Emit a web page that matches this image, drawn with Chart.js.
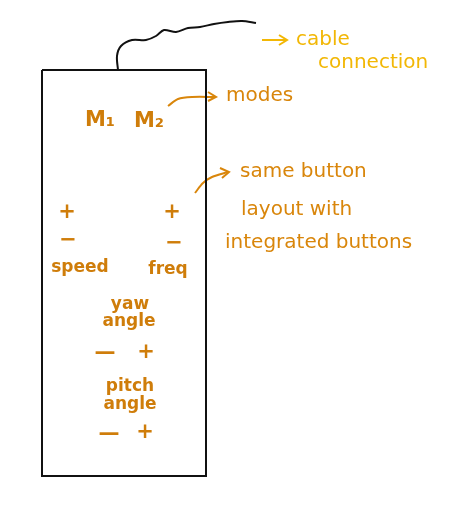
<!DOCTYPE html>
<html>
<head>
<meta charset="utf-8">
<script src="https://cdn.jsdelivr.net/npm/chart.js@4"></script>
<style>
  html, body { margin: 0; padding: 0; background: #fff; }
  #wrap { width: 454px; height: 529px; }
</style>
</head>
<body>
<div id="wrap"><canvas id="sketch"></canvas></div>
<script>
// sketch coordinates: x 0..454, y 0..529 (y grows downward)
const boxOutline = [[42,70],[206,70],[206,476],[42,476],[42,70]];
const cablePath = [[118,70],[117,56],[121,46],[132,40],[146,40],[156,36],[164,30],[176,32],[188,28],[200,27],[214,24],[228,22],[242,21],[256,23]];
const cableArrow = [[262,40],[286,40]];
const cableHead = [[279,35],[287,40],[279,45]];
const modesArrow = [[168,106],[178,99],[192,97],[215,97]];
const modesHead = [[208,92],[216,97],[208,101]];
const layoutArrow = [[195,193],[203,183],[212,177],[228,172]];
const layoutHead = [[220,168],[229,172],[222,178]];

const noteLabels = ["cable", "connection", "modes", "same button", "layout with", "integrated buttons"];
const notePos = [[296,40],[318,63],[226,96],[240,172],[241,210],[225,243]];
const noteColor = ["#f2b705", "#f2b705", "#d9860b", "#d9860b", "#d9860b", "#d9860b"];

const buttonLabels = ["M₁", "M₂", "+", "+", "−", "−", "speed", "freq", "yaw", "angle", "—", "+", "pitch", "angle", "—", "+"];
const buttonPos = [[100,121],[149,122],[67,213],[172,213],[68,241],[174,244],[80,268],[168,270],[130,305],[129,322],[105,354],[146,353],[130,387],[130,405],[109,435],[145,433]];

const pts = a => a.map(p => ({x: p[0], y: p[1]}));

function lineSet(data, color, width) {
    return { data: pts(data), showLine: true, borderColor: color, borderWidth: width,
             pointRadius: 0, tension: 0.3, fill: false };
}

const textPlugin = {
    id: "sketchText",
    afterDatasetsDraw(chart) {
        const {ctx, scales: {x, y}} = chart;
        ctx.save();
        ctx.textBaseline = "middle";
        ctx.font = "20px 'DejaVu Sans'";
        noteLabels.forEach((t, i) => {
            ctx.fillStyle = noteColor[i];
            ctx.textAlign = "left";
            ctx.fillText(t, x.getPixelForValue(notePos[i][0]), y.getPixelForValue(notePos[i][1]));
        });
        ctx.fillStyle = "#cf7d0a";
        ctx.textAlign = "center";
        buttonLabels.forEach((t, i) => {
            ctx.font = "bold " + (t.length > 2 ? "17px" : "21px") + " 'DejaVu Sans'";
            ctx.fillText(t, x.getPixelForValue(buttonPos[i][0]), y.getPixelForValue(buttonPos[i][1]));
        });
        ctx.restore();
    }
};

new Chart(document.getElementById("sketch"), {
    type: "scatter",
    data: {
        datasets: [
            Object.assign(lineSet(boxOutline, "#111", 2), {tension: 0}),
            lineSet(cablePath, "#111", 2),
            lineSet(cableArrow, "#f2b705", 2),
            Object.assign(lineSet(cableHead, "#f2b705", 2), {tension: 0}),
            lineSet(modesArrow, "#d9860b", 2),
            Object.assign(lineSet(modesHead, "#d9860b", 2), {tension: 0}),
            lineSet(layoutArrow, "#d9860b", 2),
            Object.assign(lineSet(layoutHead, "#d9860b", 2), {tension: 0})
        ]
    },
    options: {
        responsive: true, maintainAspectRatio: false, animation: false,
        layout: { padding: 0 },
        plugins: { legend: { display: false }, tooltip: { enabled: false } },
        scales: {
            x: { type: "linear", min: 0, max: 454, display: false },
            y: { type: "linear", min: 0, max: 529, reverse: true, display: false }
        }
    },
    plugins: [textPlugin]
});
</script>
</body>
</html>
